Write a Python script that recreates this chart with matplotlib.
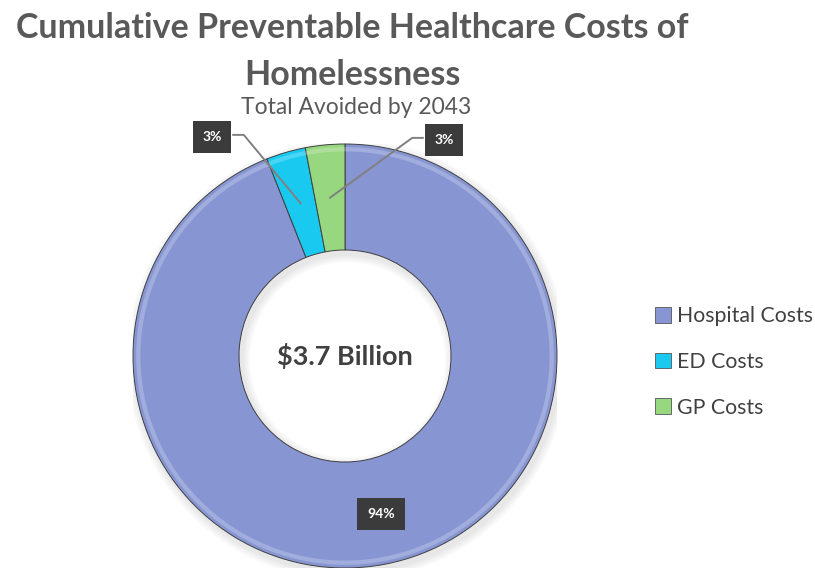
import numpy as np
import matplotlib.pyplot as plt
import matplotlib.patches as patches

# data
categories = ['Hospital Costs', 'ED Costs', 'GP Costs']
shares = [94, 3, 3]
pct_labels = ['94%', '3%', '3%']
colors = ['#8796D3', '#19C9F0', '#96D77F']
center_text = '$3.7 Billion'
title_lines = ['Cumulative Preventable Healthcare Costs of', 'Homelessness']
subtitle = 'Total Avoided by 2043'

plt.rcParams['font.family'] = ['Lato', 'DejaVu Sans']
W, H = 815, 568
fig = plt.figure(figsize=(W / 100, H / 100), dpi=100)
fig.patch.set_facecolor('white')

# pie axes: centre at pixel (345, 356), radius 212
cx, cy, r = 345, 356, 212
ax = fig.add_axes([(cx - r) / W, (H - cy - r) / H, 2 * r / W, 2 * r / H])

# soft shadow under the ring
for i in range(4):
    sh = patches.Wedge((0.012, -0.018), 1.0 + 0.01 * (i + 1), 0, 360,
                       width=0.5 + 0.02 * (i + 1), color='black', alpha=0.025, lw=0)
    ax.add_patch(sh)

wedges, _ = ax.pie(shares, colors=colors, startangle=90, counterclock=False,
                   radius=1.0, wedgeprops=dict(width=0.5, edgecolor='#3f3f3f', linewidth=0.7))
ax.set_xlim(-1, 1)
ax.set_ylim(-1, 1)
ax.set_aspect('equal')
ax.axis('off')

# lighter rim for a bit of depth
for w in wedges:
    hl = patches.Wedge((0, 0), 0.985, w.theta1, w.theta2, width=0.02,
                       color='white', alpha=0.22, lw=0)
    ax.add_patch(hl)

ax.text(0, 0, center_text, ha='center', va='center', fontsize=19.5,
        fontweight='bold', color='#404040')

# label boxes (pixel positions of box centres)
label_px = [(381, 514), (212, 137), (444, 140)]
box = dict(boxstyle='square,pad=0.7', facecolor='#3b3b3b', edgecolor='none')
for i, (w, lab) in enumerate(zip(wedges, pct_labels)):
    lx = (label_px[i][0] - cx) / r
    ly = (cy - label_px[i][1]) / r
    ax.text(lx, ly, lab, ha='center', va='center', fontsize=10,
            fontweight='bold', color='white', bbox=box, zorder=5, clip_on=False)
    if i == 0:
        continue
    mid = np.deg2rad((w.theta1 + w.theta2) / 2)
    px, py = 0.75 * np.cos(mid), 0.75 * np.sin(mid)
    side = 1 if lx < px else -1
    sx = lx + side * 0.1
    ax.plot([sx, sx + side * 0.05, px], [ly + 0.01, ly + 0.01, py],
            color='#808080', lw=1.4, clip_on=False, zorder=4)

# titles
fig.text(352 / W, 1 - 28 / H, title_lines[0], ha='center', va='center',
         fontsize=24.5, fontweight='bold', color='#595959')
fig.text(352 / W, 1 - 75 / H, title_lines[1], ha='center', va='center',
         fontsize=24.5, fontweight='bold', color='#595959')
fig.text(356 / W, 1 - 107 / H, subtitle, ha='center', va='center',
         fontsize=16.5, color='#595959')

# legend
handles = [patches.Patch(facecolor=c, edgecolor='#555555', lw=0.6) for c in colors]
fig.legend(handles, categories, loc='center left', bbox_to_anchor=(655 / W, 1 - 362 / H),
           frameon=False, fontsize=15.3, handlelength=0.75, handleheight=0.75,
           handletextpad=0.3, labelspacing=1.2, labelcolor='#404040',
           borderpad=0, borderaxespad=0)

fig.savefig('out.png', dpi=100)
